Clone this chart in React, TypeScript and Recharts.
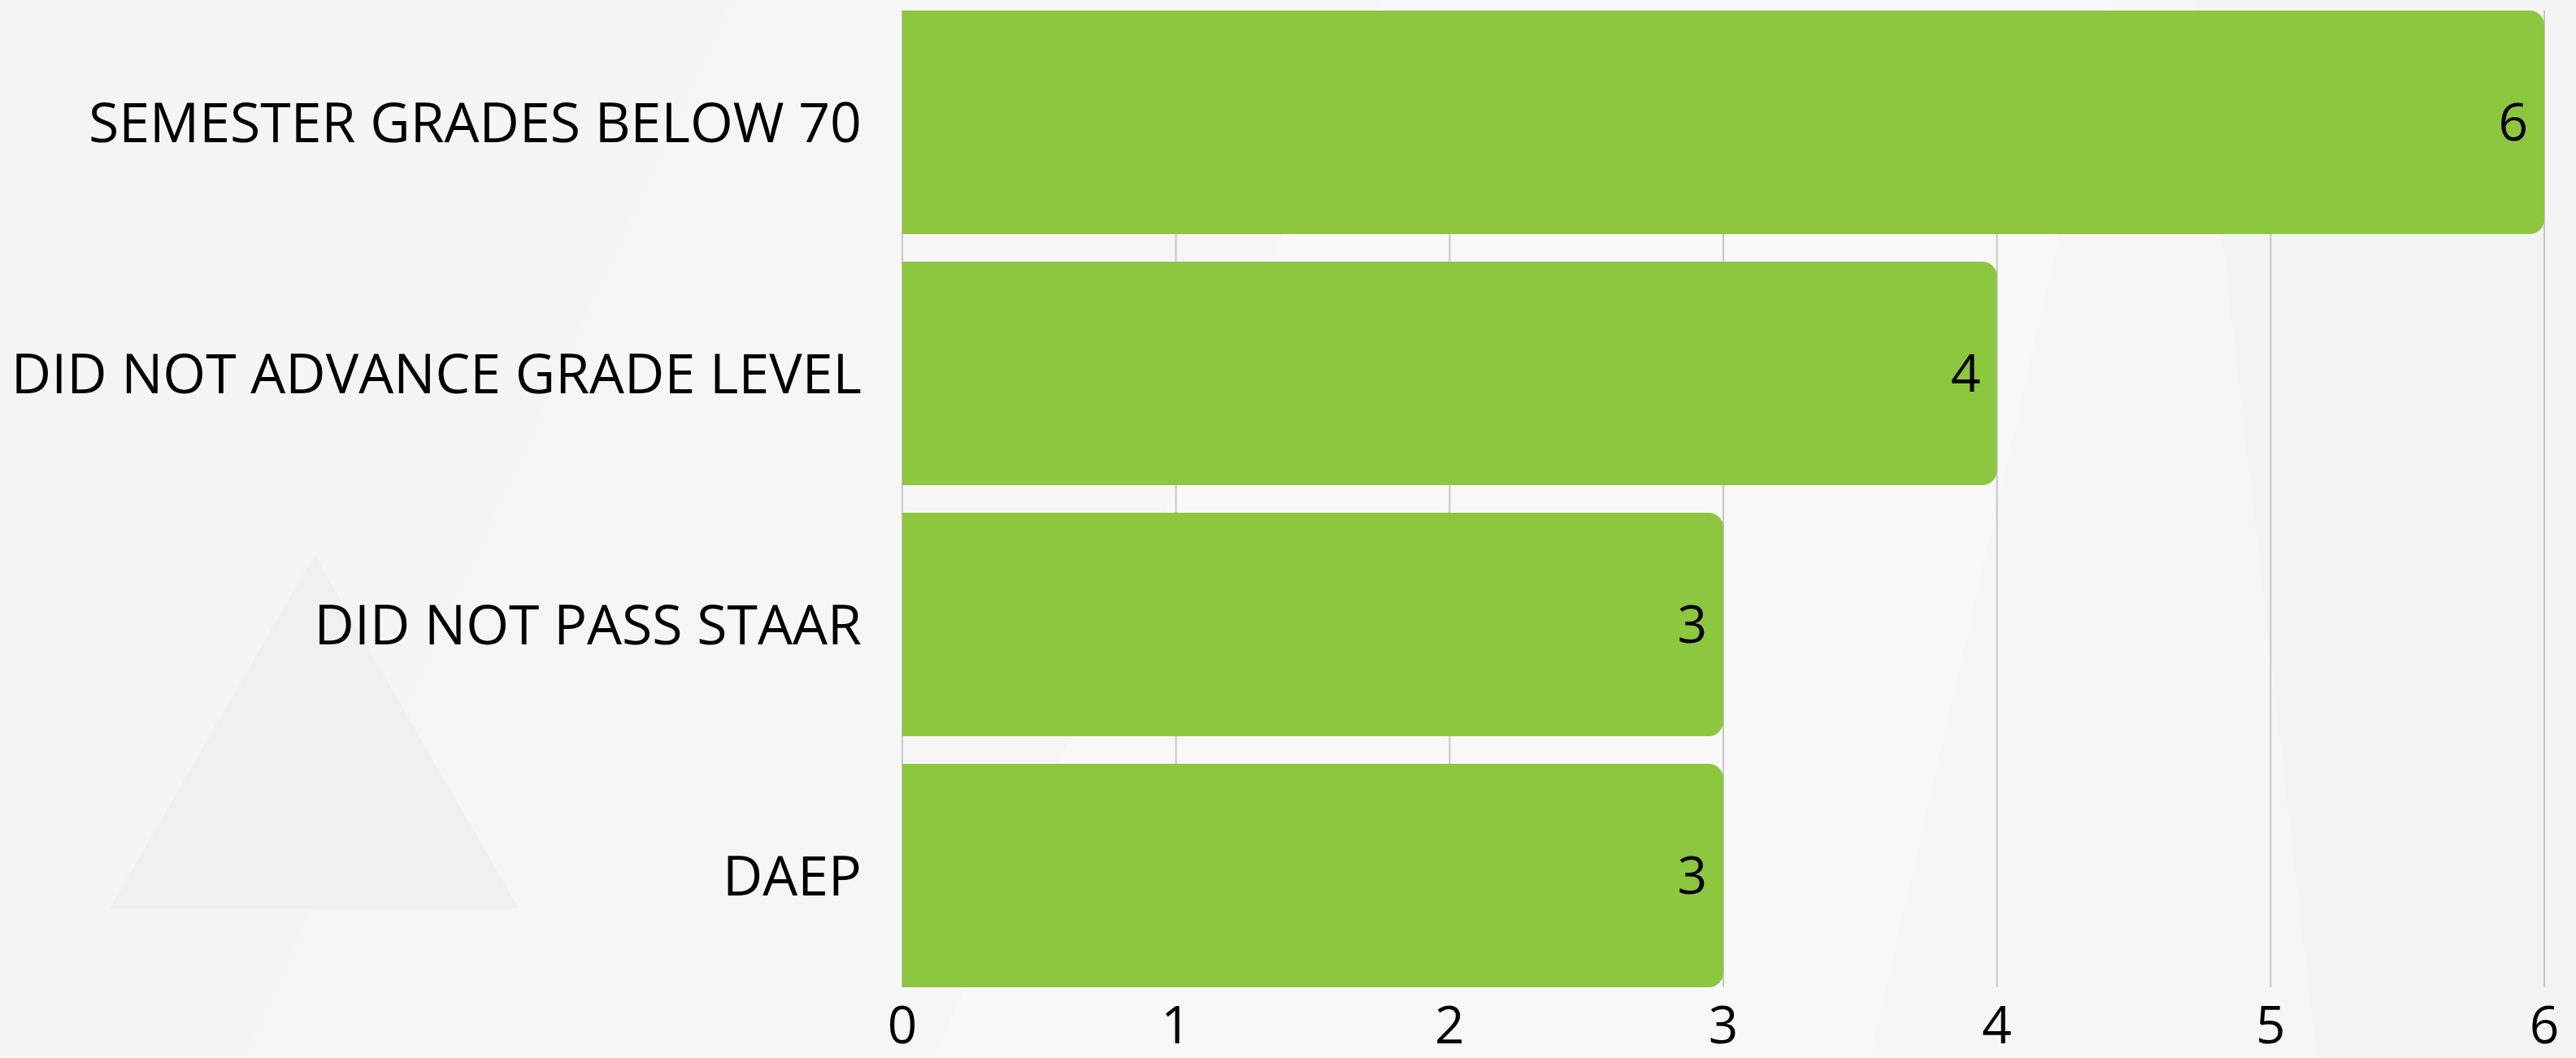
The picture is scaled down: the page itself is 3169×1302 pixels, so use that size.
import React from "react";
import {
  BarChart,
  Bar,
  XAxis,
  YAxis,
  CartesianGrid,
  LabelList,
} from "recharts";

// chart values
const categories = [
  "SEMESTER GRADES BELOW 70",
  "DID NOT ADVANCE GRADE LEVEL",
  "DID NOT PASS STAAR",
  "DAEP",
];
const counts = [6, 4, 3, 3];
const xTicks = [0, 1, 2, 3, 4, 5, 6];

const data = categories.map((category, i) => ({ category, count: counts[i] }));

const FONT = "'Open Sans', 'Noto Sans', sans-serif";
const W = 3169;
const H = 1302;

// faint decorative shapes of the slide background
const Backdrop = () => (
  <svg
    width={W}
    height={H}
    style={{ position: "absolute", left: 0, top: 0 }}
  >
    <rect x={0} y={0} width={W} height={H} fill="#f6f6f6" />
    <polygon points="0,0 900,0 300,1302 0,1302" fill="#f5f5f5" />
    <polygon points="1150,1302 1700,0 2600,0 2300,1302" fill="#f8f8f8" />
    <polygon points="2700,0 3169,0 3169,1302 2850,1302" fill="#f4f4f4" />
    <polygon points="387,683 135,1118 638,1118" fill="#f0f0f0" />
  </svg>
);

const App = () => {
  return (
    <div style={{ position: "relative", width: W, height: H }}>
      <style>{`body { margin: 0; }`}</style>
      <Backdrop />
      <div style={{ position: "absolute", left: 0, top: 0 }}>
        <BarChart
          layout="vertical"
          width={W}
          height={H}
          data={data}
          margin={{ top: 13, right: 39, bottom: 0, left: 0 }}
        >
          <CartesianGrid horizontal={false} stroke="#c6c6c6" strokeWidth={2} />
          <XAxis
            type="number"
            domain={[0, 6]}
            ticks={xTicks}
            interval={0}
            axisLine={false}
            tickLine={false}
            height={87}
            tickMargin={18}
            tick={{ fontSize: 64, fill: "#000", fontFamily: FONT }}
          />
          <YAxis
            type="category"
            dataKey="category"
            width={1110}
            axisLine={false}
            tickLine={false}
            tickMargin={44}
            padding={{ top: -17, bottom: -17 }}
            tick={{ fontSize: 68, fill: "#000", fontFamily: FONT }}
          />
          <Bar
            dataKey="count"
            fill="#8dc63f"
            barSize={275}
            radius={[0, 18, 18, 0]}
            isAnimationActive={false}
          >
            <LabelList
              dataKey="count"
              position="insideRight"
              offset={20}
              fill="#000"
              fontSize={64}
              fontFamily={FONT}
            />
          </Bar>
        </BarChart>
      </div>
    </div>
  );
};

export default App;
